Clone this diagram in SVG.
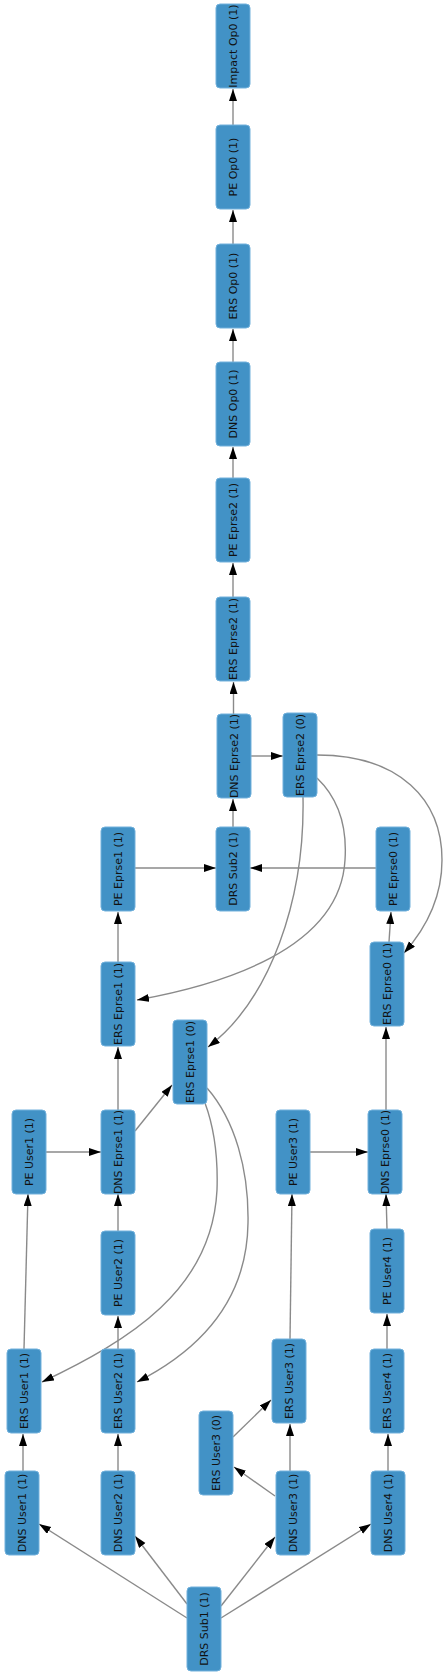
<svg xmlns="http://www.w3.org/2000/svg" width="443" height="1674" viewBox="0 0 443 1674">
<style>
.n rect{fill:#4292c6;stroke:#72b1dc;stroke-width:1}
.n text{font-family:"DejaVu Sans",sans-serif;font-size:11px;fill:#111;text-anchor:middle}
.e path{fill:none;stroke:#8a8a8a;stroke-width:1.4;marker-end:url(#ah)}
</style>
<defs>
<marker id="ah" markerUnits="userSpaceOnUse" markerWidth="13" markerHeight="9" refX="12" refY="4" orient="auto">
<path d="M0,0 L12,4 L0,8 Z" fill="#000"/>
</marker>
</defs>
<rect width="443" height="1674" fill="#fff"/>
<g id="edges" class="e">
<path d="M233,125 L233,89"/>
<path d="M233,244 L233,210"/>
<path d="M233,362 L233,329"/>
<path d="M233,478 L233,447"/>
<path d="M233,597 L233,563"/>
<path d="M233.5,714 L233.5,682"/>
<path d="M233,827 L233,799"/>
<path d="M251,756 L283,756"/>
<path d="M135,868 L216,868"/>
<path d="M376,868 L250,868"/>
<path d="M118,962 L118,912"/>
<path d="M389,942 L391,912"/>
<path d="M118,1110 L118,1047"/>
<path d="M135,1131 L172,1085"/>
<path d="M45,1152 L101,1152"/>
<path d="M310,1152 L368,1152"/>
<path d="M386,1110 L386,1027"/>
<path d="M118,1231 L118,1194"/>
<path d="M387,1229 L386,1194"/>
<path d="M24,1349 L28,1194"/>
<path d="M118,1349 L118,1316"/>
<path d="M290,1339 L292,1194"/>
<path d="M387,1349 L387,1314"/>
<path d="M23,1471 L23,1434"/>
<path d="M118,1471 L118,1434"/>
<path d="M290,1471 L290,1424"/>
<path d="M275,1496 L234,1467"/>
<path d="M233,1437 L271,1400"/>
<path d="M388,1471 L388,1434"/>
<path d="M187,1618 L39,1524"/>
<path d="M187,1604 L135,1536"/>
<path d="M221,1606 L275,1537"/>
<path d="M221,1618 L371,1524"/>
<path d="M317,755 C400,755 442,800 442,860 C442,905 420,935 404,953"/>
<path d="M317,778 C340,800 347,830 345,860 C340,950 220,985 137,1000"/>
<path d="M303,797 C305,900 270,1000 208,1047"/>
<path d="M205,1103 C215,1130 218,1160 217,1190 C212,1290 130,1340 42,1382"/>
<path d="M207,1088 C235,1120 249,1170 248,1223 C247,1300 200,1350 137,1382"/>
</g>
<g id="impact_op0" class="n"><rect x="216" y="4" width="34" height="84" rx="4"/><text transform="translate(237,46) rotate(-90)">Impact Op0 (1)</text></g>
<g id="pe_op0" class="n"><rect x="216" y="125" width="34" height="84" rx="4"/><text transform="translate(237,167) rotate(-90)">PE Op0 (1)</text></g>
<g id="ers_op0" class="n"><rect x="216" y="244" width="34" height="84" rx="4"/><text transform="translate(237,286) rotate(-90)">ERS Op0 (1)</text></g>
<g id="dns_op0" class="n"><rect x="216" y="362" width="34" height="84" rx="4"/><text transform="translate(237,404) rotate(-90)">DNS Op0 (1)</text></g>
<g id="pe_eprse2" class="n"><rect x="216" y="478" width="34" height="84" rx="4"/><text transform="translate(237,520) rotate(-90)">PE Eprse2 (1)</text></g>
<g id="ers_eprse2_1" class="n"><rect x="216" y="597" width="34" height="84" rx="4"/><text transform="translate(237,639) rotate(-90)">ERS Eprse2 (1)</text></g>
<g id="dns_eprse2" class="n"><rect x="217" y="714" width="34" height="84" rx="4"/><text transform="translate(238,756) rotate(-90)">DNS Eprse2 (1)</text></g>
<g id="ers_eprse2_0" class="n"><rect x="283" y="713" width="34" height="84" rx="4"/><text transform="translate(304,755) rotate(-90)">ERS Eprse2 (0)</text></g>
<g id="pe_eprse1" class="n"><rect x="101" y="827" width="34" height="84" rx="4"/><text transform="translate(122,869) rotate(-90)">PE Eprse1 (1)</text></g>
<g id="drs_sub2" class="n"><rect x="216" y="827" width="34" height="84" rx="4"/><text transform="translate(237,869) rotate(-90)">DRS Sub2 (1)</text></g>
<g id="pe_eprse0" class="n"><rect x="376" y="827" width="34" height="84" rx="4"/><text transform="translate(397,869) rotate(-90)">PE Eprse0 (1)</text></g>
<g id="ers_eprse1_1" class="n"><rect x="101" y="962" width="34" height="84" rx="4"/><text transform="translate(122,1004) rotate(-90)">ERS Eprse1 (1)</text></g>
<g id="ers_eprse0" class="n"><rect x="370" y="942" width="34" height="84" rx="4"/><text transform="translate(391,984) rotate(-90)">ERS Eprse0 (1)</text></g>
<g id="ers_eprse1_0" class="n"><rect x="173" y="1020" width="34" height="84" rx="4"/><text transform="translate(194,1062) rotate(-90)">ERS Eprse1 (0)</text></g>
<g id="pe_user1" class="n"><rect x="12" y="1110" width="34" height="84" rx="4"/><text transform="translate(33,1152) rotate(-90)">PE User1 (1)</text></g>
<g id="dns_eprse1" class="n"><rect x="101" y="1110" width="34" height="84" rx="4"/><text transform="translate(122,1152) rotate(-90)">DNS Eprse1 (1)</text></g>
<g id="pe_user3" class="n"><rect x="276" y="1110" width="34" height="84" rx="4"/><text transform="translate(297,1152) rotate(-90)">PE User3 (1)</text></g>
<g id="dns_eprse0" class="n"><rect x="368" y="1110" width="34" height="84" rx="4"/><text transform="translate(389,1152) rotate(-90)">DNS Eprse0 (1)</text></g>
<g id="pe_user2" class="n"><rect x="101" y="1231" width="34" height="84" rx="4"/><text transform="translate(122,1273) rotate(-90)">PE User2 (1)</text></g>
<g id="pe_user4" class="n"><rect x="370" y="1229" width="34" height="84" rx="4"/><text transform="translate(391,1271) rotate(-90)">PE User4 (1)</text></g>
<g id="ers_user1" class="n"><rect x="7" y="1349" width="34" height="84" rx="4"/><text transform="translate(28,1391) rotate(-90)">ERS User1 (1)</text></g>
<g id="ers_user2" class="n"><rect x="101" y="1349" width="34" height="84" rx="4"/><text transform="translate(122,1391) rotate(-90)">ERS User2 (1)</text></g>
<g id="ers_user3_1" class="n"><rect x="272" y="1339" width="34" height="84" rx="4"/><text transform="translate(293,1381) rotate(-90)">ERS User3 (1)</text></g>
<g id="ers_user4" class="n"><rect x="370" y="1349" width="34" height="84" rx="4"/><text transform="translate(391,1391) rotate(-90)">ERS User4 (1)</text></g>
<g id="ers_user3_0" class="n"><rect x="199" y="1411" width="34" height="84" rx="4"/><text transform="translate(220,1453) rotate(-90)">ERS User3 (0)</text></g>
<g id="dns_user1" class="n"><rect x="5" y="1471" width="34" height="84" rx="4"/><text transform="translate(26,1513) rotate(-90)">DNS User1 (1)</text></g>
<g id="dns_user2" class="n"><rect x="101" y="1471" width="34" height="84" rx="4"/><text transform="translate(122,1513) rotate(-90)">DNS User2 (1)</text></g>
<g id="dns_user3" class="n"><rect x="276" y="1471" width="34" height="84" rx="4"/><text transform="translate(297,1513) rotate(-90)">DNS User3 (1)</text></g>
<g id="dns_user4" class="n"><rect x="371" y="1471" width="34" height="84" rx="4"/><text transform="translate(392,1513) rotate(-90)">DNS User4 (1)</text></g>
<g id="drs_sub1" class="n"><rect x="187" y="1587" width="34" height="84" rx="4"/><text transform="translate(208,1629) rotate(-90)">DRS Sub1 (1)</text></g>
</svg>
